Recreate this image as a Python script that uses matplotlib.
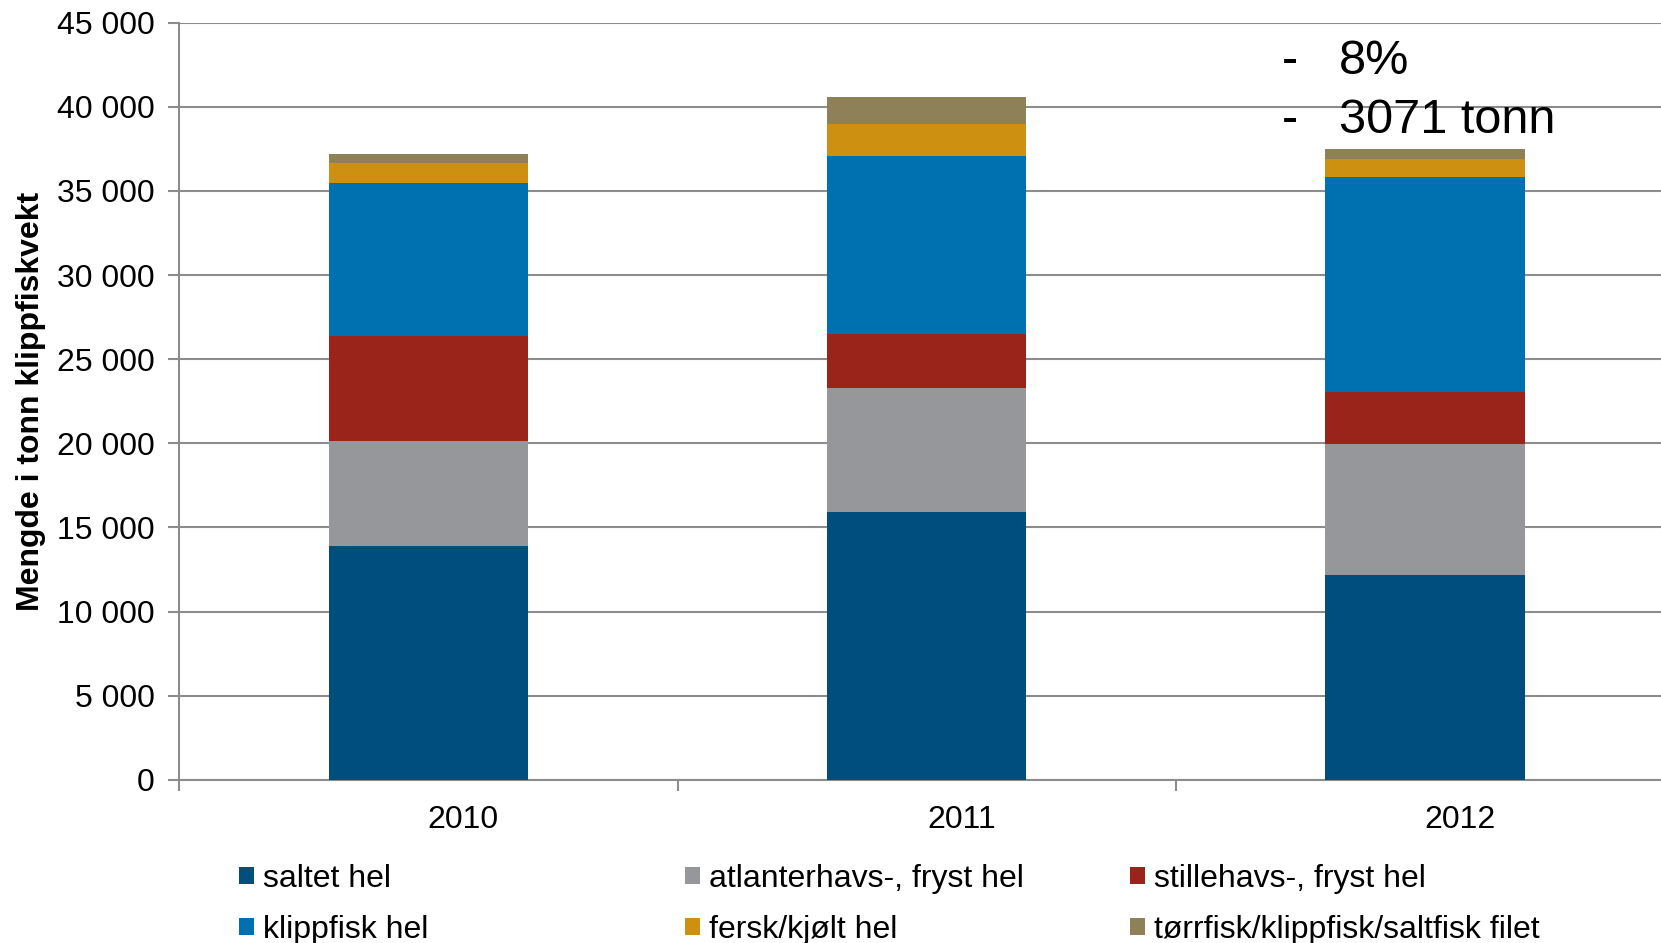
import numpy as np
import matplotlib.pyplot as plt

plt.rcParams['font.family'] = ['Liberation Sans', 'DejaVu Sans']

years = ["2010", "2011", "2012"]
saltet = [13900, 15900, 12200]
atlanterhavs = [6250, 7400, 7750]
stillehavs = [6200, 3200, 3100]
klippfisk = [9100, 10600, 12800]
fersk = [1200, 1900, 1050]
torrfisk = [570, 1600, 600]

series = [
    ("saltet hel", saltet, "#004E7D"),
    ("atlanterhavs-, fryst hel", atlanterhavs, "#96979A"),
    ("stillehavs-, fryst hel", stillehavs, "#9A2419"),
    ("klippfisk hel", klippfisk, "#0071B0"),
    ("fersk/kjølt hel", fersk, "#CD9010"),
    ("tørrfisk/klippfisk/saltfisk filet", torrfisk, "#8E8057"),
]

fig = plt.figure(figsize=(16.61, 9.43), dpi=100)
ax = fig.add_axes([0.108, 0.173, 0.900, 0.803])

x = np.arange(len(years))
bottom = np.zeros(len(years))
handles = {}
for name, vals, col in series:
    b = ax.bar(x, vals, width=0.4, bottom=bottom, color=col, label=name, zorder=3)
    handles[name] = b
    bottom += np.array(vals)

ax.set_xlim(-0.5, 2.5)
ax.set_ylim(0, 45000)
ax.set_yticks(np.arange(0, 45001, 5000))
ax.set_yticklabels([f"{v:,}".replace(",", " ") for v in range(0, 45001, 5000)])
ax.grid(axis="y", color="#8C8C8C", linewidth=1.5, zorder=0)

# category separators as major ticks, labels as minor ticks
ax.set_xticks([-0.5, 0.5, 1.5])
ax.set_xticklabels([])
ax.set_xticks(x + 0.07, minor=True)
ax.set_xticklabels(years, minor=True)
ax.tick_params(axis="x", which="major", length=8, width=1.5, color="#8C8C8C", direction="out")
ax.tick_params(axis="x", which="minor", length=0, pad=18, labelsize=23)
ax.tick_params(axis="y", length=8, width=1.5, color="#8C8C8C", labelsize=23, pad=10)

for s in ["top", "right"]:
    ax.spines[s].set_visible(False)
for s in ["left", "bottom"]:
    ax.spines[s].set_color("#8C8C8C")
    ax.spines[s].set_linewidth(1.5)

ax.set_ylabel("Mengde i tonn klippfiskvekt", fontsize=23, fontweight="bold")
ax.yaxis.set_label_coords(-0.089, 0.5)

# annotation top right
fig.text(0.772, 0.935, "-", fontsize=35, va="center")
fig.text(0.806, 0.935, "8%", fontsize=35, va="center")
fig.text(0.772, 0.872, "-", fontsize=35, va="center")
fig.text(0.806, 0.872, "3071 tonn", fontsize=35, va="center")

# legend: three columns, two rows
cols = [("saltet hel", "klippfisk hel"),
        ("atlanterhavs-, fryst hel", "fersk/kjølt hel"),
        ("stillehavs-, fryst hel", "tørrfisk/klippfisk/saltfisk filet")]
xpos = [0.144, 0.4125, 0.6805]
for names, xp in zip(cols, xpos):
    fig.legend([handles[n] for n in names], names, loc="center left",
               bbox_to_anchor=(xp, 0.041), frameon=False, fontsize=23,
               handlelength=0.47, handleheight=0.47, handletextpad=0.27,
               labelspacing=0.65, borderaxespad=0, borderpad=0)

fig.savefig("out.png", dpi=100)
